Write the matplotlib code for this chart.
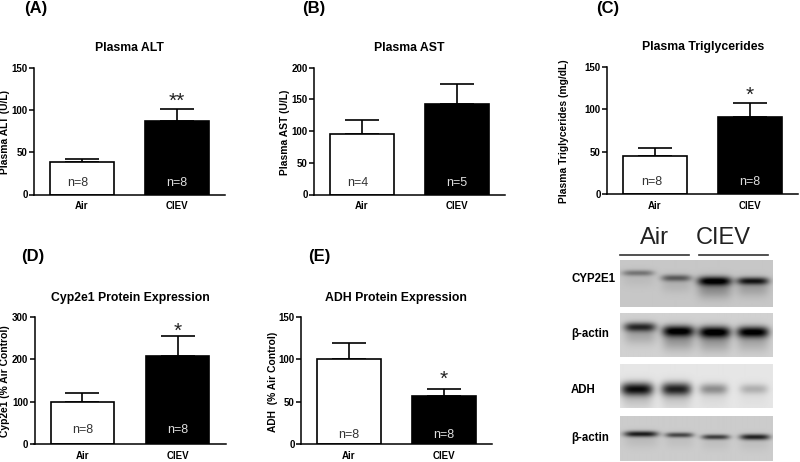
import numpy as np
import matplotlib
matplotlib.use("Agg")
import matplotlib.pyplot as plt

plt.rcParams["font.family"] = ["Liberation Sans", "DejaVu Sans"]

W, H = 800, 462

groups = ["Air", "CIEV"]

alt_vals = [38, 87]
alt_err = [4, 14]
alt_n = ["n=8", "n=8"]
ast_vals = [96, 143]
ast_err = [21, 31]
ast_n = ["n=4", "n=5"]
tg_vals = [45, 91]
tg_err = [9, 16]
tg_n = ["n=8", "n=8"]
cyp_vals = [100, 207]
cyp_err = [20, 48]
cyp_n = ["n=8", "n=8"]
adh_vals = [100, 57]
adh_err = [19, 8]
adh_n = ["n=8", "n=8"]

alt_ticks = [0, 50, 100, 150]
ast_ticks = [0, 50, 100, 150, 200]
tg_ticks = [0, 50, 100, 150]
cyp_ticks = [0, 100, 200, 300]
adh_ticks = [0, 50, 100, 150]

# blot bands: lane centre x, band centre y, half width, half height, darkness, smear below
cyp2e1_bands = [(638, 273, 16, 3.0, 0.38, 0.06), (676, 278, 15, 3.4, 0.50, 0.10),
                (714, 281, 17, 4.6, 0.92, 0.30), (752, 281, 16, 3.8, 0.80, 0.20)]
actin1_bands = [(640, 327, 16, 4.6, 0.72, 0.20), (678, 331, 16, 5.6, 0.92, 0.28),
                (714, 332, 16, 5.8, 0.95, 0.26), (752, 332, 16, 5.6, 0.95, 0.20)]
adh_bands = [(637, 389, 16, 6.5, 0.88, 0.15), (676, 389, 15, 6.5, 0.80, 0.12),
             (713, 389, 14, 5.5, 0.36, 0.05), (753, 389, 14, 5.0, 0.22, 0.03)]
actin2_bands = [(641, 434, 17, 3.0, 0.82, 0.08), (679, 435, 14, 2.6, 0.62, 0.06),
                (715, 437, 14, 2.6, 0.66, 0.06), (754, 437, 15, 3.0, 0.80, 0.06)]


def px_axes(fig, x0, y0, x1, y1):
    # axes from pixel box, y measured from the top
    return fig.add_axes([x0 / W, 1 - y1 / H, (x1 - x0) / W, (y1 - y0) / H])


def label(fig, x, y, s, **kw):
    kw.setdefault("ha", "center")
    kw.setdefault("va", "center")
    fig.text(x / W, 1 - y / H, s, **kw)


def panel(fig, axis_x, top, vals, err, ns, ticks, title, title_xy, ylab, ylab_x, n_rise=12, n_dx=0.0, star=None, letter=None):
    bottom = top + 127
    ax = px_axes(fig, axis_x, top, axis_x + 191, bottom)
    cols = ["white", "black"]
    ax.bar([0, 1], vals, 0.67, color=cols, edgecolor="black", linewidth=1.2, zorder=2)
    ax.errorbar([0, 1], vals, yerr=[[0, 0], err], fmt="none", ecolor="black", elinewidth=1.2,
                capsize=12, capthick=1.2, zorder=1)
    ax.set_xlim(-0.505, 1.505)
    ax.set_ylim(ticks[0], ticks[-1])
    ax.set_xticks([0, 1])
    ax.set_xticklabels(groups, fontsize=7, fontweight="bold")
    ax.set_yticks(ticks)
    ax.tick_params(axis="y", length=3.5, width=1.1, labelsize=7, pad=1)
    ax.tick_params(axis="x", length=0, pad=5)
    for t in ax.get_yticklabels():
        t.set_fontweight("bold")
    ax.spines["top"].set_visible(False)
    ax.spines["right"].set_visible(False)
    ax.spines["left"].set_linewidth(1.1)
    ax.spines["bottom"].set_linewidth(1.1)
    ax.patch.set_alpha(0)
    nbase = ticks[-1] * n_rise / 127
    ax.text(n_dx, nbase, ns[0], ha="center", va="center", fontsize=9, color="#333333", zorder=3)
    ax.text(1, nbase, ns[1], ha="center", va="center", fontsize=9, color="#dddddd", zorder=3)
    if star:
        ax.text(star[0], star[1], star[2], ha="center", va="center", fontsize=15, color="#222222")
    label(fig, title_xy[0], title_xy[1], title, fontsize=8.8, fontweight="bold")
    label(fig, ylab_x, top + 64.5, ylab, fontsize=7.4, fontweight="bold", rotation=90)
    if letter:
        label(fig, letter[0], letter[1], letter[2], fontsize=12, fontweight="bold")


def blot(fig, x0, y0, x1, y1, bands, bg):
    ax = px_axes(fig, x0, y0, x1, y1)
    xx, yy = np.meshgrid(np.arange(x0, x1) + 0.5, np.arange(y0, y1) + 0.5)
    dark = np.zeros_like(xx, dtype=float)
    for cx, cy, wx, wy, d, smear in bands:
        prof = np.exp(-((xx - cx) / wx) ** 4)
        dark += d * prof * np.exp(-((yy - cy) / wy) ** 2)
        dark += smear * prof * np.exp(-((yy - cy - wy - 3) / (wy + 5)) ** 2)
    img = np.clip(bg * (1 - dark), 0, 1)
    ax.imshow(img, cmap="gray", vmin=0, vmax=1, aspect="auto", interpolation="bilinear")
    ax.axis("off")


fig = plt.figure(figsize=(W / 100, H / 100), dpi=100)

panel(fig, 34, 67.5, alt_vals, alt_err, alt_n, alt_ticks, "Plasma ALT", (129, 48),
      "Plasma ALT (U/L)", 5, n_dx=-0.04, star=(1, 110, "**"), letter=(36, 8, "(A)"))
panel(fig, 314, 67.5, ast_vals, ast_err, ast_n, ast_ticks, "Plasma AST", (409, 48),
      "Plasma AST (U/L)", 284.5, n_dx=-0.04, letter=(314, 8, "(B)"))
panel(fig, 607, 67, tg_vals, tg_err, tg_n, tg_ticks, "Plasma Triglycerides", (703, 47),
      "Plasma Triglycerides (mg/dL)", 564, n_dx=-0.03, star=(1, 117, "*"), letter=(608, 8, "(C)"))
panel(fig, 34.5, 317, cyp_vals, cyp_err, cyp_n, cyp_ticks, "Cyp2e1 Protein Expression", (130, 298),
      "Cyp2e1 (% Air Control)", 5, n_rise=14, star=(1, 265, "*"), letter=(33, 256, "(D)"))
panel(fig, 301, 317, adh_vals, adh_err, adh_n, adh_ticks, "ADH Protein Expression", (396, 298),
      "ADH  (% Air Control)", 273, n_rise=9, star=(1, 76, "*"), letter=(319, 256, "(E)"))

blot(fig, 620, 260, 772, 307, cyp2e1_bands, 0.78)
blot(fig, 620, 313, 772, 357, actin1_bands, 0.82)
blot(fig, 620, 364, 772, 408, adh_bands, 0.90)
blot(fig, 620, 416, 772, 461, actin2_bands, 0.80)

label(fig, 654, 238, "Air", fontsize=17, color="#222222")
label(fig, 723, 238, "CIEV", fontsize=17, color="#222222")
overlay = fig.add_axes([0, 0, 1, 1])
overlay.set_xlim(0, W)
overlay.set_ylim(H, 0)
overlay.axis("off")
overlay.plot([620, 689], [254.5, 254.5], color="#333333", lw=1.2)
overlay.plot([699, 768], [254.5, 254.5], color="#333333", lw=1.2)

narrow = ["Liberation Sans Narrow", "Liberation Sans", "DejaVu Sans"]
label(fig, 571, 279, "CYP2E1", fontsize=8.3, fontweight="bold", ha="left", family=narrow)
label(fig, 571, 334, "β-actin", fontsize=8.3, fontweight="bold", ha="left", family=narrow)
label(fig, 571, 390, "ADH", fontsize=8.3, fontweight="bold", ha="left", family=narrow)
label(fig, 571, 438, "β-actin", fontsize=8.3, fontweight="bold", ha="left", family=narrow)

fig.savefig("out.png", dpi=100)
